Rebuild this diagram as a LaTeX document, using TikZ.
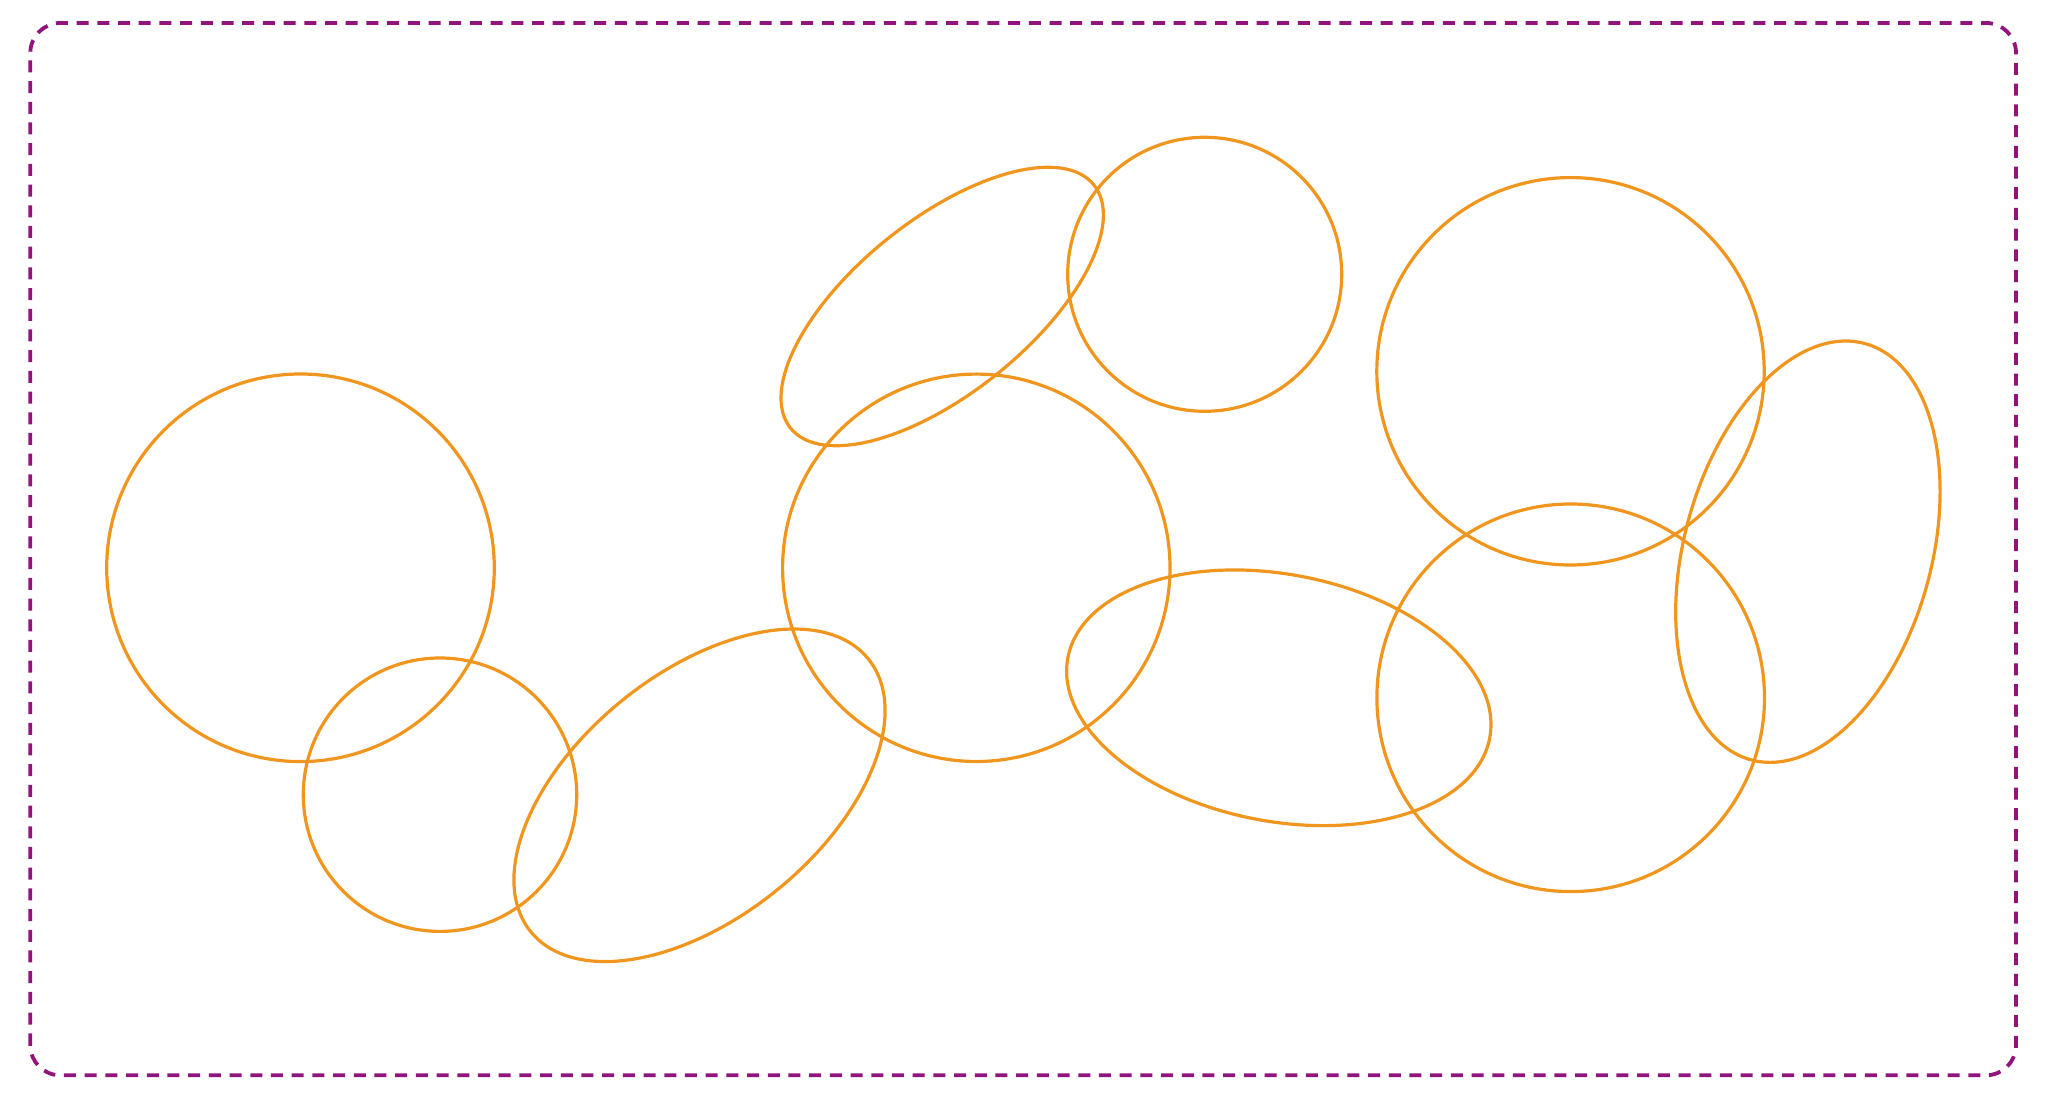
\documentclass[tikz,border=0pt]{standalone}
\definecolor{frameviolet}{RGB}{145,20,125}
\definecolor{ringorange}{RGB}{240,150,30}
\tikzset{
  frame/.style={draw=frameviolet, line width=3.8pt, dash pattern=on 12pt off 8.7pt, rounded corners=30pt},
  ring/.style={draw=ringorange, line width=3.2pt}
}
\begin{document}
\begin{tikzpicture}[x=1pt,y=1pt]
\useasboundingbox (0,0) rectangle (2054,1114);
% dashed frame
\draw[frame] (30.3,38.7) rectangle (2016,1091);
% circles
\draw[ring] (300.5,546.2) circle [radius=193.8];
\draw[ring] (440,319.3) circle [radius=136.7];
\draw[ring] (976.3,546.2) circle [radius=193.7];
\draw[ring] (1204.7,839.7) circle [radius=137];
\draw[ring] (1570.5,742.7) circle [radius=193.7];
\draw[ring] (1570.7,416.2) circle [radius=193.8];
% ellipses
\draw[ring, shift={(699.5,318.7)}, rotate=38.9] (0,0) ellipse [x radius=217, y radius=122.4];
\draw[ring, shift={(942.2,807.5)}, rotate=38.7] (0,0) ellipse [x radius=194.4, y radius=87];
\draw[ring, shift={(1278.8,416.2)}, rotate=-10.8] (0,0) ellipse [x radius=214.7, y radius=123.5];
\draw[ring, shift={(1807.9,562.3)}, rotate=74.65] (0,0) ellipse [x radius=215.8, y radius=123.6];
\end{tikzpicture}
\end{document}
